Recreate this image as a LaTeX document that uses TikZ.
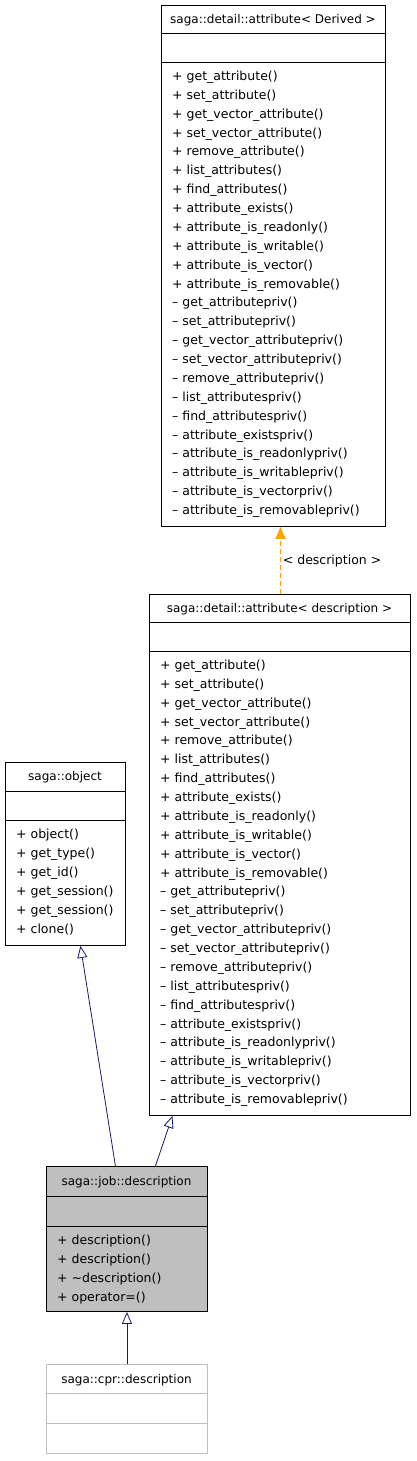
\documentclass[tikz,border=0pt]{standalone}
\usepackage{fontspec}
\setmainfont{DejaVu Sans}
\usetikzlibrary{arrows.meta}
\definecolor{edgeblue}{RGB}{25,25,112}
\definecolor{edgeorange}{RGB}{255,165,0}
\definecolor{boxgray}{RGB}{191,191,191}
\newcommand\mm{\textendash}
\begin{document}
\begin{tikzpicture}[x=1pt,y=-1pt,
  classbox/.style={draw=black, line width=0.9pt, inner sep=0pt, anchor=north west},
  sep/.style={line width=0.9pt},
  title/.style={font=\fontsize{12}{14}\selectfont, inner sep=0pt, anchor=base},
  member/.style={font=\fontsize{12.5}{14}\selectfont, inner sep=0pt, anchor=base west},
  inherit/.style={draw=edgeblue, line width=0.8pt, -{Triangle[open, width=10pt, length=12pt]}},
  templ/.style={draw=edgeorange, line width=0.9pt, dashed, dash pattern=on 5pt off 3pt, -{Triangle[width=10pt, length=12pt, fill=edgeorange]}},
  lbl/.style={font=\fontsize{12.5}{14}\selectfont, inner sep=0pt, anchor=base west}
]
\useasboundingbox (0,0) rectangle (416,1461);
\fill[white] (0,0) rectangle (416,1461);

% ---- saga::detail::attribute< Derived >
\node[classbox, minimum width=224pt, minimum height=521pt] (derived) at (161,5) {};
\draw[sep] (161,33) -- (385,33);
\draw[sep] (161,62) -- (385,62);
\node[title] (derivedT) at (273,23.5) {saga::detail::attribute< Derived >};
\foreach \t [count=\i from 0] in {%
  + get\_attribute(), + set\_attribute(), + get\_vector\_attribute(), + set\_vector\_attribute(),
  + remove\_attribute(), + list\_attributes(), + find\_attributes(), + attribute\_exists(),
  + attribute\_is\_readonly(), + attribute\_is\_writable(), + attribute\_is\_vector(), + attribute\_is\_removable(),
  \mm{} get\_attributepriv(), \mm{} set\_attributepriv(), \mm{} get\_vector\_attributepriv(), \mm{} set\_vector\_attributepriv(),
  \mm{} remove\_attributepriv(), \mm{} list\_attributespriv(), \mm{} find\_attributespriv(), \mm{} attribute\_existspriv(),
  \mm{} attribute\_is\_readonlypriv(), \mm{} attribute\_is\_writablepriv(), \mm{} attribute\_is\_vectorpriv(), \mm{} attribute\_is\_removablepriv()}
  \node[member] (dm\i) at (172,{80.5+18.87*\i}) {\t};

% ---- saga::detail::attribute< description >
\node[classbox, minimum width=261pt, minimum height=521pt] (desc) at (149,594) {};
\draw[sep] (149,622) -- (410,622);
\draw[sep] (149,651) -- (410,651);
\node[title] (descT) at (279.5,612.5) {saga::detail::attribute< description >};
\foreach \t [count=\i from 0] in {%
  + get\_attribute(), + set\_attribute(), + get\_vector\_attribute(), + set\_vector\_attribute(),
  + remove\_attribute(), + list\_attributes(), + find\_attributes(), + attribute\_exists(),
  + attribute\_is\_readonly(), + attribute\_is\_writable(), + attribute\_is\_vector(), + attribute\_is\_removable(),
  \mm{} get\_attributepriv(), \mm{} set\_attributepriv(), \mm{} get\_vector\_attributepriv(), \mm{} set\_vector\_attributepriv(),
  \mm{} remove\_attributepriv(), \mm{} list\_attributespriv(), \mm{} find\_attributespriv(), \mm{} attribute\_existspriv(),
  \mm{} attribute\_is\_readonlypriv(), \mm{} attribute\_is\_writablepriv(), \mm{} attribute\_is\_vectorpriv(), \mm{} attribute\_is\_removablepriv()}
  \node[member] (em\i) at (160,{669.5+18.87*\i}) {\t};

% ---- saga::object
\node[classbox, minimum width=120pt, minimum height=183pt] (object) at (5,762) {};
\draw[sep] (5,791) -- (125,791);
\draw[sep] (5,820) -- (125,820);
\node[title] (objectT) at (65,780.5) {saga::object};
\foreach \t [count=\i from 0] in {+ object(), + get\_type(), + get\_id(), + get\_session(), + get\_session(), + clone()}
  \node[member] (om\i) at (16,{838.5+19*\i}) {\t};

% ---- saga::job::description
\node[classbox, fill=boxgray, minimum width=161pt, minimum height=145pt] (job) at (46,1166) {};
\draw[sep] (46,1196) -- (207,1196);
\draw[sep] (46,1226) -- (207,1226);
\node[title] (jobT) at (126.5,1185.5) {saga::job::description};
\foreach \t [count=\i from 0] in {+ description(), + description(), + \textasciitilde description(), + operator=()}
  \node[member] (jm\i) at (57,{1244.5+19*\i}) {\t};

% ---- saga::cpr::description
\node[classbox, draw=boxgray, minimum width=161pt, minimum height=89pt] (cpr) at (46,1364) {};
\draw[sep, boxgray] (46,1393) -- (207,1393);
\draw[sep, boxgray] (46,1423) -- (207,1423);
\node[title] (cprT) at (126.5,1383.5) {saga::cpr::description};

% ---- connectors
\draw[inherit] ([xshift=-11.5pt]job.north) -- ([xshift=15pt]object.south);
\draw[inherit] ([xshift=28.5pt]job.north) -- ([xshift=-107.5pt]desc.south);
\draw[inherit] (cpr.north) -- (job.south);
\draw[templ] ([xshift=0.5pt]desc.north) -- ([xshift=7pt]derived.south)
  node[lbl, pos=0.5, xshift=2pt, yshift=-4pt] (tlbl) {< description >};
\end{tikzpicture}
\end{document}
